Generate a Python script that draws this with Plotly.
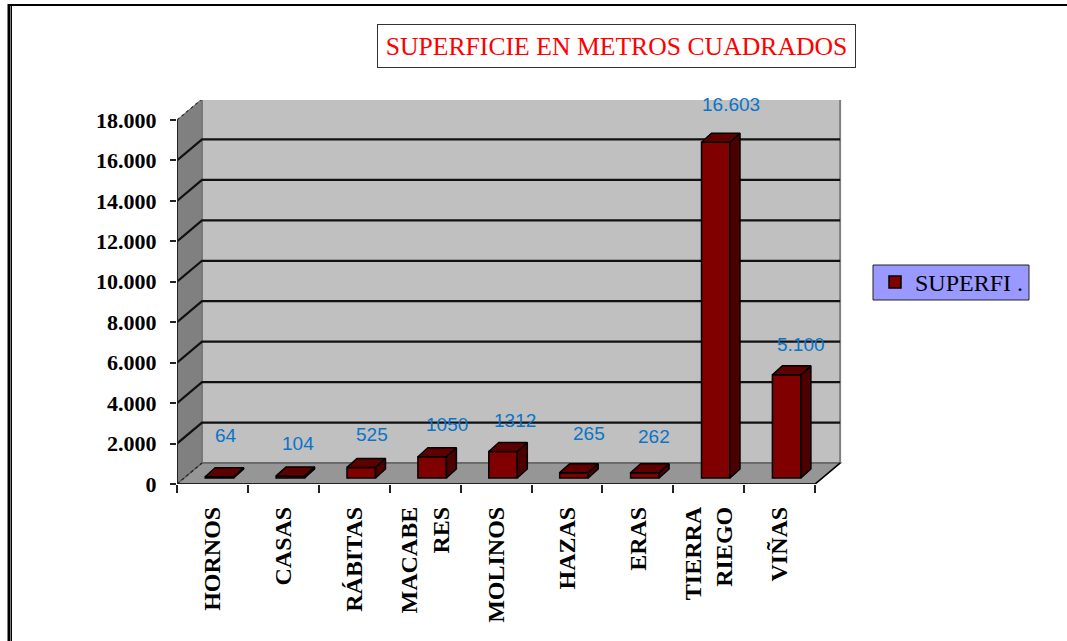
import plotly.graph_objects as go

categories = ["HORNOS", "CASAS", "RÁBITAS", "MACABE<br>RES", "MOLINOS", "HAZAS", "ERAS", "TIERRA<br>RIEGO", "VIÑAS"]
values = [64, 104, 525, 1050, 1312, 265, 262, 16603, 5100]
value_labels = ["64", "104", "525", "1050", "1312", "265", "262", "16.603", "5.100"]
y_ticks = [0, 2000, 4000, 6000, 8000, 10000, 12000, 14000, 16000, 18000]
y_tick_labels = ["0", "2.000", "4.000", "6.000", "8.000", "10.000", "12.000", "14.000", "16.000", "18.000"]
# hand placed, the labels do not sit evenly over the bars
label_shift_x = [7, 8, 11, 15, 12, 15, 9, 15, 14]
label_shift_y = [-41, -32, -33, -32, -31, -39, -36, -38, -30]

SERIF = "Liberation Serif"
SANS = "Liberation Sans"

# pixel scale of the chart, x in category slots and y in values
WIDTH, HEIGHT = 1067, 641
LEFT, RIGHT, TOP, BOTTOM = 177, 842, 100, 484
SLOT = 70.9
PX = 364 / 18000
x_max = (RIGHT - LEFT) / SLOT
y_max = (BOTTOM - TOP) / PX
n = len(categories)

# depth of the fake 3d box and of the bars
dx, dy = 25 / SLOT, 21 / PX
bar_dx, bar_dy = 10 / SLOT, 9 / PX
off_x, off_y = 7 / SLOT, 6 / PX
bar_w = 28.5 / SLOT

centers = [i + 0.5 + off_x for i in range(n)]


def px_x(p):
    return (p - LEFT) / (RIGHT - LEFT)


def px_y(p):
    return (BOTTOM - p) / (BOTTOM - TOP)


def path(points, closed=False):
    s = "M " + " L ".join(f"{x} {y}" for x, y in points)
    return s + " Z" if closed else s


def box_shape(points, fill, line_color, width):
    fig.add_shape(type="path", path=path(points, True), xref="x", yref="y", layer="below",
                  fillcolor=fill, line=dict(color=line_color, width=width))


def line_shape(points, color, width, dash="solid"):
    fig.add_shape(type="path", path=path(points), xref="x", yref="y", layer="below",
                  line=dict(color=color, width=width, dash=dash))


def polygon_trace(polys, fill, line_color="black", width=1.5):
    xs, ys = [], []
    for p in polys:
        xs += [pt[0] for pt in p] + [p[0][0], None]
        ys += [pt[1] for pt in p] + [p[0][1], None]
    return go.Scatter(
        x=xs, y=ys, mode="lines", fill="toself", fillcolor=fill,
        line=dict(color=line_color, width=width),
        hoverinfo="skip", showlegend=False,
    )


fig = go.Figure()

# walls and floor
box_shape([(dx, dy), (n + dx, dy), (n + dx, 18000 + dy), (dx, 18000 + dy)], "#C0C0C0", "#808080", 2)
box_shape([(0, 0), (dx, dy), (dx, 18000 + dy), (0, 18000)], "#808080", "#707070", 1)
box_shape([(0, 0), (n, 0), (n + dx, dy), (dx, dy)], "#969696", "#606060", 1.5)

# gridlines run along the back wall and down the side wall
for t in y_ticks[1:-1]:
    line_shape([(0, t), (dx, t + dy), (n + dx, t + dy)], "#111111", 2.2)
line_shape([(dx, 18000 + dy), (n + dx, 18000 + dy)], "#444444", 1.5)
line_shape([(0, 18000), (dx, 18000 + dy)], "#333333", 1.2, "dot")
line_shape([(0, 0), (dx, dy)], "#222222", 1.2, "dot")
line_shape([(n, 0), (n + dx, dy)], "black", 1.5)
line_shape([(0, 18000), (0, 0), (n, 0)], "#222222", 2)

tops, sides = [], []
for c, v in zip(centers, values):
    x0, x1 = c - bar_w / 2, c + bar_w / 2
    y0, y1 = off_y, off_y + v
    tops.append([(x0, y1), (x1, y1), (x1 + bar_dx, y1 + bar_dy), (x0 + bar_dx, y1 + bar_dy)])
    sides.append([(x1, y0), (x1 + bar_dx, y0 + bar_dy), (x1 + bar_dx, y1 + bar_dy), (x1, y1)])

fig.add_trace(go.Bar(
    x=centers, y=values, base=off_y, width=bar_w, name="SUPERFI .",
    marker=dict(color="#800000", line=dict(color="black", width=1.5)),
    hoverinfo="skip", showlegend=True,
))
fig.add_trace(polygon_trace(sides, "#4D0000"))
fig.add_trace(polygon_trace(tops, "#5F0000"))

for c, v, txt, sx, sy in zip(centers, values, value_labels, label_shift_x, label_shift_y):
    fig.add_annotation(
        x=c, y=off_y + v, text=txt, showarrow=False, xshift=sx, yshift=-sy,
        font=dict(family=SANS, size=19, color="#0A74C8"),
    )

# title box
fig.add_annotation(
    xref="paper", yref="paper", xanchor="center", yanchor="middle",
    x=px_x(616.5), y=px_y(46.5),
    text="SUPERFICIE EN METROS CUADRADOS", showarrow=False,
    font=dict(family=SERIF, size=25.7, color="#FF0000"),
    width=475, height=40, borderpad=1,
    bordercolor="#333333", borderwidth=1, bgcolor="white",
)

# legend plate, the real legend sits on top of it
fig.add_shape(type="rect", xref="paper", yref="paper", layer="below",
              x0=px_x(873), x1=px_x(1029), y0=px_y(300), y1=px_y(265),
              fillcolor="#9999FF", line=dict(color="#222222", width=1))

# page frame
fig.add_shape(type="line", xref="paper", yref="paper",
              x0=px_x(9), x1=px_x(WIDTH), y0=px_y(5), y1=px_y(5),
              line=dict(color="black", width=2))
fig.add_shape(type="line", xref="paper", yref="paper",
              x0=px_x(9), x1=px_x(9), y0=px_y(HEIGHT), y1=px_y(4),
              line=dict(color="black", width=3))
fig.add_shape(type="line", xref="paper", yref="paper",
              x0=px_x(11.5), x1=px_x(11.5), y0=px_y(HEIGHT), y1=px_y(6),
              line=dict(color="black", width=1))

fig.update_xaxes(
    range=[0, x_max],
    tickmode="array",
    tickvals=[i + 0.5 for i in range(n)],
    ticktext=categories,
    tickangle=-90,
    ticks="",
    ticklabelstandoff=17,
    tickfont=dict(family=SERIF, size=24, color="black", weight="bold"),
    minor=dict(tickmode="linear", tick0=0, dtick=1, ticks="outside", ticklen=8, tickcolor="#222222", tickwidth=1.5),
    showgrid=False,
    zeroline=False,
    showline=False,
)
fig.update_yaxes(
    range=[0, y_max],
    tickmode="array",
    tickvals=y_ticks,
    ticktext=y_tick_labels,
    ticks="outside",
    ticklen=6,
    tickwidth=1.5,
    tickcolor="#222222",
    ticklabelstandoff=9,
    tickfont=dict(family=SERIF, size=22, color="black", weight="bold"),
    showgrid=False,
    zeroline=False,
    showline=False,
)
fig.update_layout(
    width=WIDTH,
    height=HEIGHT,
    margin=dict(l=LEFT, r=WIDTH - RIGHT, t=TOP, b=HEIGHT - BOTTOM, autoexpand=False),
    paper_bgcolor="white",
    plot_bgcolor="rgba(0,0,0,0)",
    barmode="overlay",
    showlegend=True,
    legend=dict(
        x=px_x(875), xanchor="left",
        y=px_y(282.5), yanchor="middle",
        bgcolor="rgba(0,0,0,0)", borderwidth=0,
        font=dict(family=SERIF, size=24, color="black"),
        itemwidth=30,
    ),
)

fig.write_html("out.html", config=dict(displayModeBar=False), post_script="document.body.style.margin='0';")
